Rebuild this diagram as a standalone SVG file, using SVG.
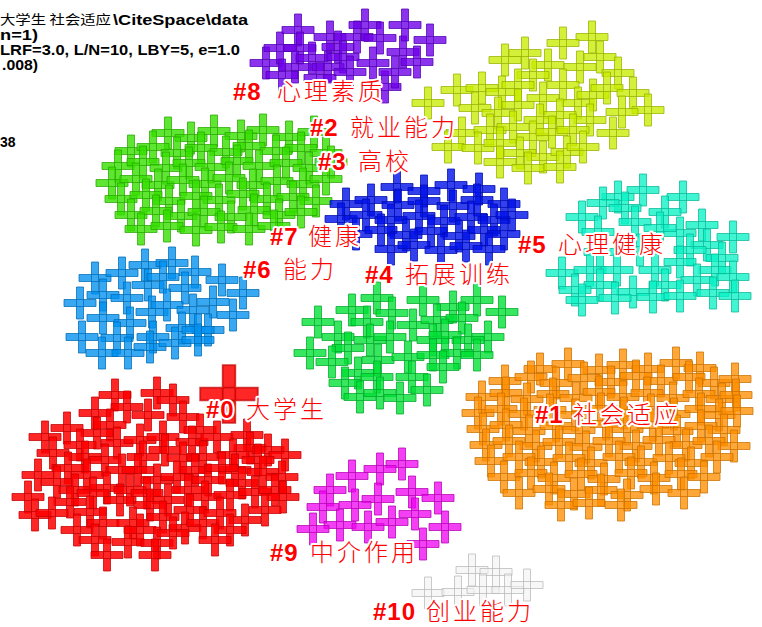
<svg xmlns="http://www.w3.org/2000/svg" width="762" height="627" viewBox="0 0 762 627">
<style>
.k{stroke-width:1;stroke-opacity:.75}
.k0{fill:#ff0000;fill-opacity:.85;stroke:#c40000}
.k1{fill:#ff8e00;fill-opacity:.78;stroke:#c87000}
.k2{fill:#c9ec00;fill-opacity:.78;stroke:#98b000}
.k3{fill:#36e000;fill-opacity:.8;stroke:#28a800}
.k4{fill:#00e033;fill-opacity:.78;stroke:#00a828}
.k5{fill:#0bf2c7;fill-opacity:.78;stroke:#08b896}
.k6{fill:#0090ef;fill-opacity:.78;stroke:#006cb4}
.k7{fill:#0010e8;fill-opacity:.8;stroke:#000cae}
.k8{fill:#6f00ea;fill-opacity:.8;stroke:#5200b0}
.k9{fill:#f000f0;fill-opacity:.75;stroke:#b400b4}
.k10{fill:#f2f2f2;fill-opacity:.6;stroke:#b8b8b8}
.lab{font-family:"Noto Sans CJK SC","Liberation Sans",sans-serif;font-weight:300;font-size:24px;fill:#ff0000;stroke:#ffffff;stroke-width:4;stroke-linejoin:round;paint-order:stroke;letter-spacing:3px}
.num{font-family:"Liberation Sans",Arial,sans-serif;font-weight:bold;font-size:24px;letter-spacing:1px}
.info{font-family:"Liberation Sans",Arial,sans-serif;font-weight:bold;font-size:14px;fill:#000}
.infoc{font-family:"Noto Sans CJK SC",sans-serif;font-size:13px;fill:#000}
</style>
<defs>
<path id="c" d="M-16,-3.5h32v7h-32z M-3.5,-16h7v32h-7z"/>
</defs>
<rect width="762" height="627" fill="#ffffff"/>

<g id="info">
<text class="infoc" x="0" y="24" textLength="111" lengthAdjust="spacingAndGlyphs">大学生 社会适应</text>
<text class="info" x="113" y="25" textLength="135" lengthAdjust="spacingAndGlyphs">\CiteSpace\data</text>
<text class="info" x="0" y="40" textLength="38" lengthAdjust="spacingAndGlyphs">n=1)</text>
<text class="info" x="0" y="55" textLength="240" lengthAdjust="spacingAndGlyphs">LRF=3.0, L/N=10, LBY=5, e=1.0</text>
<text class="info" x="2" y="70" textLength="36" lengthAdjust="spacingAndGlyphs">.008)</text>
<text class="info" x="0" y="147">38</text>
</g>

<g id="cluster8" class="k k8">
<use href="#c" x="266" y="63"/><use href="#c" x="280" y="48"/><use href="#c" x="298" y="30"/><use href="#c" x="300" y="48"/><use href="#c" x="295" y="67"/><use href="#c" x="312" y="58"/><use href="#c" x="328" y="67"/><use href="#c" x="330" y="37"/><use href="#c" x="338" y="47"/><use href="#c" x="343" y="57"/><use href="#c" x="357" y="37"/><use href="#c" x="365" y="25"/><use href="#c" x="373" y="63"/><use href="#c" x="380" y="38"/><use href="#c" x="385" y="87"/><use href="#c" x="395" y="72"/><use href="#c" x="403" y="52"/><use href="#c" x="405" y="25"/><use href="#c" x="417" y="62"/><use href="#c" x="430" y="40"/><use href="#c" x="320" y="78"/><use href="#c" x="350" y="72"/><use href="#c" x="282" y="75"/>
</g>

<g id="cluster2" class="k k2">
<use href="#c" x="592" y="37"/><use href="#c" x="563" y="43"/><use href="#c" x="525" y="53"/><use href="#c" x="505" y="60"/><use href="#c" x="548" y="65"/><use href="#c" x="580" y="67"/><use href="#c" x="600" y="57"/><use href="#c" x="533" y="75"/><use href="#c" x="618" y="73"/><use href="#c" x="457" y="90"/><use href="#c" x="482" y="88"/><use href="#c" x="502" y="92"/><use href="#c" x="518" y="85"/><use href="#c" x="563" y="85"/><use href="#c" x="428" y="103"/><use href="#c" x="475" y="108"/><use href="#c" x="498" y="113"/><use href="#c" x="518" y="105"/><use href="#c" x="543" y="98"/><use href="#c" x="578" y="103"/><use href="#c" x="593" y="95"/><use href="#c" x="607" y="88"/><use href="#c" x="633" y="93"/><use href="#c" x="648" y="110"/><use href="#c" x="622" y="112"/><use href="#c" x="590" y="120"/><use href="#c" x="560" y="115"/><use href="#c" x="540" y="120"/><use href="#c" x="462" y="133"/><use href="#c" x="490" y="130"/><use href="#c" x="513" y="127"/><use href="#c" x="533" y="137"/><use href="#c" x="552" y="132"/><use href="#c" x="573" y="130"/><use href="#c" x="613" y="133"/><use href="#c" x="448" y="147"/><use href="#c" x="478" y="148"/><use href="#c" x="500" y="143"/><use href="#c" x="520" y="153"/><use href="#c" x="543" y="157"/><use href="#c" x="567" y="152"/><use href="#c" x="583" y="147"/><use href="#c" x="500" y="162"/><use href="#c" x="528" y="168"/><use href="#c" x="560" y="167"/>
</g>

<g id="cluster3" class="k k3">
<use href="#c" x="168" y="133"/><use href="#c" x="191" y="138"/><use href="#c" x="214" y="131"/><use href="#c" x="241" y="136"/><use href="#c" x="263" y="130"/><use href="#c" x="289" y="137"/><use href="#c" x="314" y="132"/>
<use href="#c" x="131" y="151"/><use href="#c" x="153" y="147"/><use href="#c" x="177" y="153"/><use href="#c" x="201" y="148"/><use href="#c" x="226" y="152"/><use href="#c" x="249" y="146"/><use href="#c" x="276" y="151"/><use href="#c" x="301" y="148"/><use href="#c" x="326" y="153"/>
<use href="#c" x="118" y="166"/><use href="#c" x="143" y="162"/><use href="#c" x="166" y="168"/><use href="#c" x="189" y="163"/><use href="#c" x="211" y="167"/><use href="#c" x="237" y="161"/><use href="#c" x="259" y="166"/><use href="#c" x="286" y="163"/><use href="#c" x="309" y="168"/><use href="#c" x="331" y="162"/>
<use href="#c" x="112" y="183"/><use href="#c" x="136" y="179"/><use href="#c" x="158" y="185"/><use href="#c" x="183" y="180"/><use href="#c" x="205" y="184"/><use href="#c" x="229" y="178"/><use href="#c" x="253" y="185"/><use href="#c" x="277" y="181"/><use href="#c" x="303" y="184"/><use href="#c" x="326" y="179"/>
<use href="#c" x="121" y="199"/><use href="#c" x="146" y="195"/><use href="#c" x="169" y="201"/><use href="#c" x="196" y="196"/><use href="#c" x="219" y="200"/><use href="#c" x="243" y="194"/><use href="#c" x="267" y="199"/><use href="#c" x="293" y="197"/><use href="#c" x="316" y="201"/>
<use href="#c" x="131" y="215"/><use href="#c" x="156" y="211"/><use href="#c" x="181" y="216"/><use href="#c" x="204" y="212"/><use href="#c" x="231" y="217"/><use href="#c" x="254" y="210"/><use href="#c" x="279" y="215"/><use href="#c" x="301" y="212"/>
<use href="#c" x="141" y="229"/><use href="#c" x="167" y="226"/><use href="#c" x="196" y="230"/><use href="#c" x="221" y="227"/><use href="#c" x="249" y="229"/><use href="#c" x="274" y="226"/>
</g>

<g id="cluster7" class="k k7">
<use href="#c" x="397" y="187"/><use href="#c" x="424" y="191"/><use href="#c" x="451" y="185"/><use href="#c" x="479" y="189"/>
<use href="#c" x="346" y="204"/><use href="#c" x="371" y="200"/><use href="#c" x="398" y="205"/><use href="#c" x="424" y="201"/><use href="#c" x="453" y="206"/><use href="#c" x="477" y="200"/><use href="#c" x="504" y="204"/>
<use href="#c" x="341" y="219"/><use href="#c" x="366" y="215"/><use href="#c" x="391" y="220"/><use href="#c" x="419" y="216"/><use href="#c" x="444" y="221"/><use href="#c" x="471" y="217"/><use href="#c" x="494" y="220"/><use href="#c" x="512" y="215"/>
<use href="#c" x="356" y="234"/><use href="#c" x="381" y="230"/><use href="#c" x="406" y="235"/><use href="#c" x="431" y="231"/><use href="#c" x="459" y="236"/><use href="#c" x="484" y="230"/><use href="#c" x="504" y="234"/>
<use href="#c" x="391" y="249"/><use href="#c" x="414" y="245"/><use href="#c" x="441" y="250"/><use href="#c" x="466" y="246"/><use href="#c" x="489" y="249"/>
</g>

<g id="cluster5" class="k k5">
<use href="#c" x="643" y="190"/><use href="#c" x="618" y="197"/><use href="#c" x="683" y="197"/><use href="#c" x="603" y="203"/><use href="#c" x="582" y="217"/><use href="#c" x="665" y="212"/><use href="#c" x="625" y="208"/><use href="#c" x="635" y="222"/><use href="#c" x="702" y="225"/><use href="#c" x="680" y="233"/><use href="#c" x="660" y="228"/><use href="#c" x="598" y="232"/><use href="#c" x="733" y="237"/><use href="#c" x="707" y="245"/><use href="#c" x="690" y="250"/><use href="#c" x="600" y="252"/><use href="#c" x="640" y="250"/><use href="#c" x="722" y="258"/><use href="#c" x="715" y="270"/><use href="#c" x="562" y="273"/><use href="#c" x="590" y="270"/><use href="#c" x="617" y="270"/><use href="#c" x="655" y="270"/><use href="#c" x="680" y="262"/><use href="#c" x="697" y="280"/><use href="#c" x="733" y="277"/><use href="#c" x="600" y="285"/><use href="#c" x="665" y="285"/><use href="#c" x="633" y="292"/><use href="#c" x="575" y="290"/><use href="#c" x="582" y="300"/><use href="#c" x="615" y="298"/><use href="#c" x="653" y="297"/><use href="#c" x="680" y="296"/><use href="#c" x="713" y="293"/><use href="#c" x="735" y="296"/>
</g>

<g id="cluster6" class="k k6">
<use href="#c" x="95" y="278"/><use href="#c" x="122" y="273"/><use href="#c" x="145" y="265"/><use href="#c" x="172" y="263"/><use href="#c" x="195" y="272"/><use href="#c" x="222" y="280"/><use href="#c" x="243" y="293"/><use href="#c" x="80" y="303"/><use href="#c" x="103" y="295"/><use href="#c" x="127" y="298"/><use href="#c" x="148" y="285"/><use href="#c" x="163" y="277"/><use href="#c" x="185" y="288"/><use href="#c" x="213" y="302"/><use href="#c" x="233" y="315"/><use href="#c" x="103" y="318"/><use href="#c" x="130" y="323"/><use href="#c" x="152" y="312"/><use href="#c" x="167" y="305"/><use href="#c" x="193" y="310"/><use href="#c" x="208" y="330"/><use href="#c" x="82" y="337"/><use href="#c" x="117" y="338"/><use href="#c" x="153" y="337"/><use href="#c" x="182" y="328"/><use href="#c" x="198" y="330"/><use href="#c" x="102" y="353"/><use href="#c" x="128" y="353"/><use href="#c" x="150" y="347"/><use href="#c" x="175" y="343"/><use href="#c" x="198" y="340"/>
</g>

<g id="cluster4" class="k k4">
<use href="#c" x="352" y="310"/><use href="#c" x="377" y="298"/><use href="#c" x="392" y="313"/><use href="#c" x="423" y="300"/><use href="#c" x="453" y="307"/><use href="#c" x="477" y="300"/><use href="#c" x="502" y="312"/><use href="#c" x="318" y="322"/><use href="#c" x="367" y="322"/><use href="#c" x="413" y="325"/><use href="#c" x="437" y="320"/><use href="#c" x="462" y="318"/><use href="#c" x="488" y="337"/><use href="#c" x="468" y="340"/><use href="#c" x="338" y="337"/><use href="#c" x="348" y="348"/><use href="#c" x="370" y="340"/><use href="#c" x="390" y="337"/><use href="#c" x="433" y="340"/><use href="#c" x="445" y="335"/><use href="#c" x="310" y="353"/><use href="#c" x="332" y="362"/><use href="#c" x="358" y="373"/><use href="#c" x="378" y="360"/><use href="#c" x="408" y="357"/><use href="#c" x="433" y="355"/><use href="#c" x="457" y="353"/><use href="#c" x="477" y="355"/><use href="#c" x="345" y="383"/><use href="#c" x="377" y="377"/><use href="#c" x="412" y="377"/><use href="#c" x="443" y="367"/><use href="#c" x="360" y="397"/><use href="#c" x="380" y="393"/><use href="#c" x="400" y="398"/><use href="#c" x="427" y="390"/>
</g>

<g id="cluster0" class="k k0">
<use href="#c" x="115" y="395"/><use href="#c" x="157" y="393"/><use href="#c" x="173" y="400"/><use href="#c" x="95" y="413"/><use href="#c" x="127" y="407"/><use href="#c" x="148" y="415"/><use href="#c" x="183" y="417"/><use href="#c" x="110" y="425"/><use href="#c" x="200" y="430"/><use href="#c" x="67" y="428"/><use href="#c" x="45" y="437"/><use href="#c" x="97" y="433"/><use href="#c" x="117" y="443"/><use href="#c" x="140" y="440"/><use href="#c" x="163" y="437"/><use href="#c" x="192" y="442"/><use href="#c" x="217" y="437"/><use href="#c" x="247" y="435"/><use href="#c" x="250" y="448"/><use href="#c" x="268" y="450"/><use href="#c" x="285" y="455"/><use href="#c" x="53" y="453"/><use href="#c" x="80" y="445"/><use href="#c" x="85" y="457"/><use href="#c" x="105" y="460"/><use href="#c" x="122" y="470"/><use href="#c" x="143" y="457"/><use href="#c" x="165" y="450"/><use href="#c" x="183" y="458"/><use href="#c" x="203" y="457"/><use href="#c" x="233" y="455"/><use href="#c" x="258" y="460"/><use href="#c" x="195" y="470"/><use href="#c" x="235" y="470"/><use href="#c" x="38" y="475"/><use href="#c" x="68" y="468"/><use href="#c" x="87" y="475"/><use href="#c" x="107" y="488"/><use href="#c" x="138" y="470"/><use href="#c" x="157" y="480"/><use href="#c" x="177" y="477"/><use href="#c" x="208" y="480"/><use href="#c" x="222" y="468"/><use href="#c" x="242" y="483"/><use href="#c" x="263" y="472"/><use href="#c" x="282" y="477"/><use href="#c" x="28" y="497"/><use href="#c" x="57" y="482"/><use href="#c" x="75" y="490"/><use href="#c" x="70" y="502"/><use href="#c" x="93" y="493"/><use href="#c" x="120" y="500"/><use href="#c" x="130" y="490"/><use href="#c" x="147" y="493"/><use href="#c" x="168" y="500"/><use href="#c" x="188" y="490"/><use href="#c" x="205" y="497"/><use href="#c" x="230" y="495"/><use href="#c" x="255" y="492"/><use href="#c" x="275" y="490"/><use href="#c" x="283" y="497"/><use href="#c" x="35" y="515"/><use href="#c" x="52" y="513"/><use href="#c" x="90" y="512"/><use href="#c" x="150" y="505"/><use href="#c" x="190" y="510"/><use href="#c" x="77" y="530"/><use href="#c" x="103" y="523"/><use href="#c" x="133" y="523"/><use href="#c" x="163" y="517"/><use href="#c" x="185" y="528"/><use href="#c" x="203" y="523"/><use href="#c" x="220" y="513"/><use href="#c" x="245" y="520"/><use href="#c" x="230" y="530"/><use href="#c" x="265" y="510"/><use href="#c" x="128" y="542"/><use href="#c" x="140" y="530"/><use href="#c" x="95" y="540"/><use href="#c" x="157" y="543"/><use href="#c" x="173" y="533"/><use href="#c" x="215" y="540"/><use href="#c" x="107" y="555"/><use href="#c" x="155" y="555"/>
<use href="#c" transform="translate(229 394) scale(1.8)"/>
</g>

<g id="cluster1" class="k k1">
<use href="#c" x="540" y="369"/><use href="#c" x="568" y="364"/><use href="#c" x="599" y="370"/><use href="#c" x="623" y="365"/><use href="#c" x="648" y="369"/><use href="#c" x="676" y="363"/><use href="#c" x="700" y="368"/>
<use href="#c" x="505" y="381"/><use href="#c" x="531" y="377"/><use href="#c" x="556" y="383"/><use href="#c" x="584" y="378"/><use href="#c" x="611" y="382"/><use href="#c" x="636" y="376"/><use href="#c" x="661" y="381"/><use href="#c" x="689" y="377"/><use href="#c" x="714" y="383"/><use href="#c" x="735" y="379"/>
<use href="#c" x="482" y="397"/><use href="#c" x="506" y="393"/><use href="#c" x="527" y="399"/><use href="#c" x="553" y="394"/><use href="#c" x="576" y="398"/><use href="#c" x="599" y="392"/><use href="#c" x="623" y="397"/><use href="#c" x="647" y="393"/><use href="#c" x="673" y="398"/><use href="#c" x="699" y="394"/><use href="#c" x="722" y="399"/><use href="#c" x="736" y="395"/>
<use href="#c" x="478" y="413"/><use href="#c" x="501" y="409"/><use href="#c" x="524" y="414"/><use href="#c" x="550" y="410"/><use href="#c" x="575" y="415"/><use href="#c" x="601" y="409"/><use href="#c" x="624" y="413"/><use href="#c" x="651" y="410"/><use href="#c" x="674" y="414"/><use href="#c" x="701" y="409"/><use href="#c" x="719" y="415"/><use href="#c" x="737" y="411"/>
<use href="#c" x="483" y="429"/><use href="#c" x="506" y="425"/><use href="#c" x="529" y="431"/><use href="#c" x="556" y="426"/><use href="#c" x="579" y="430"/><use href="#c" x="606" y="424"/><use href="#c" x="627" y="429"/><use href="#c" x="653" y="425"/><use href="#c" x="677" y="431"/><use href="#c" x="701" y="426"/><use href="#c" x="724" y="430"/>
<use href="#c" x="486" y="445"/><use href="#c" x="509" y="441"/><use href="#c" x="536" y="446"/><use href="#c" x="559" y="442"/><use href="#c" x="586" y="447"/><use href="#c" x="609" y="441"/><use href="#c" x="636" y="446"/><use href="#c" x="659" y="440"/><use href="#c" x="686" y="445"/><use href="#c" x="709" y="441"/><use href="#c" x="734" y="446"/>
<use href="#c" x="491" y="461"/><use href="#c" x="519" y="457"/><use href="#c" x="541" y="462"/><use href="#c" x="569" y="458"/><use href="#c" x="591" y="463"/><use href="#c" x="619" y="457"/><use href="#c" x="641" y="462"/><use href="#c" x="669" y="458"/><use href="#c" x="691" y="463"/><use href="#c" x="717" y="457"/>
<use href="#c" x="504" y="477"/><use href="#c" x="531" y="473"/><use href="#c" x="554" y="478"/><use href="#c" x="581" y="474"/><use href="#c" x="604" y="479"/><use href="#c" x="631" y="473"/><use href="#c" x="654" y="478"/><use href="#c" x="681" y="474"/><use href="#c" x="704" y="477"/>
<use href="#c" x="519" y="493"/><use href="#c" x="549" y="489"/><use href="#c" x="574" y="494"/><use href="#c" x="601" y="490"/><use href="#c" x="627" y="495"/><use href="#c" x="656" y="489"/><use href="#c" x="684" y="493"/>
<use href="#c" x="561" y="505"/><use href="#c" x="589" y="503"/><use href="#c" x="621" y="505"/>
</g>

<g id="cluster9" class="k k9">
<use href="#c" x="402" y="464"/><use href="#c" x="380" y="469"/><use href="#c" x="352" y="476"/><use href="#c" x="330" y="490"/><use href="#c" x="378" y="499"/><use href="#c" x="412" y="492"/><use href="#c" x="438" y="498"/><use href="#c" x="323" y="507"/><use href="#c" x="355" y="505"/><use href="#c" x="415" y="514"/><use href="#c" x="340" y="525"/><use href="#c" x="313" y="529"/><use href="#c" x="368" y="527"/><use href="#c" x="392" y="522"/><use href="#c" x="445" y="527"/><use href="#c" x="423" y="544"/>
</g>

<g id="cluster10" class="k k10">
<use href="#c" x="472" y="570"/><use href="#c" x="496" y="572"/><use href="#c" x="428" y="593"/><use href="#c" x="458" y="592"/><use href="#c" x="483" y="590"/><use href="#c" x="508" y="590"/><use href="#c" x="527" y="585"/>
</g>

<g id="labels">
<text class="lab" y="100"><tspan class="num" x="233">#8</tspan><tspan x="277">心理素质</tspan></text>
<text class="lab" y="136"><tspan class="num" x="310">#2</tspan><tspan x="350">就业能力</tspan></text>
<text class="lab" y="170"><tspan class="num" x="318">#3</tspan><tspan x="358">高校</tspan></text>
<text class="lab" y="245"><tspan class="num" x="270">#7</tspan><tspan x="308">健康</tspan></text>
<text class="lab" y="253"><tspan class="num" x="518">#5</tspan><tspan x="558">心理健康</tspan></text>
<text class="lab" y="278"><tspan class="num" x="243">#6</tspan><tspan x="283">能力</tspan></text>
<text class="lab" y="283"><tspan class="num" x="365">#4</tspan><tspan x="405">拓展训练</tspan></text>
<text class="lab" y="418"><tspan class="num" x="206">#0</tspan><tspan x="246">大学生</tspan></text>
<text class="lab" y="423"><tspan class="num" x="535">#1</tspan><tspan x="573">社会适应</tspan></text>
<text class="lab" y="561"><tspan class="num" x="270">#9</tspan><tspan x="310">中介作用</tspan></text>
<text class="lab" y="620"><tspan class="num" x="373">#10</tspan><tspan x="426">创业能力</tspan></text>
</g>
</svg>
